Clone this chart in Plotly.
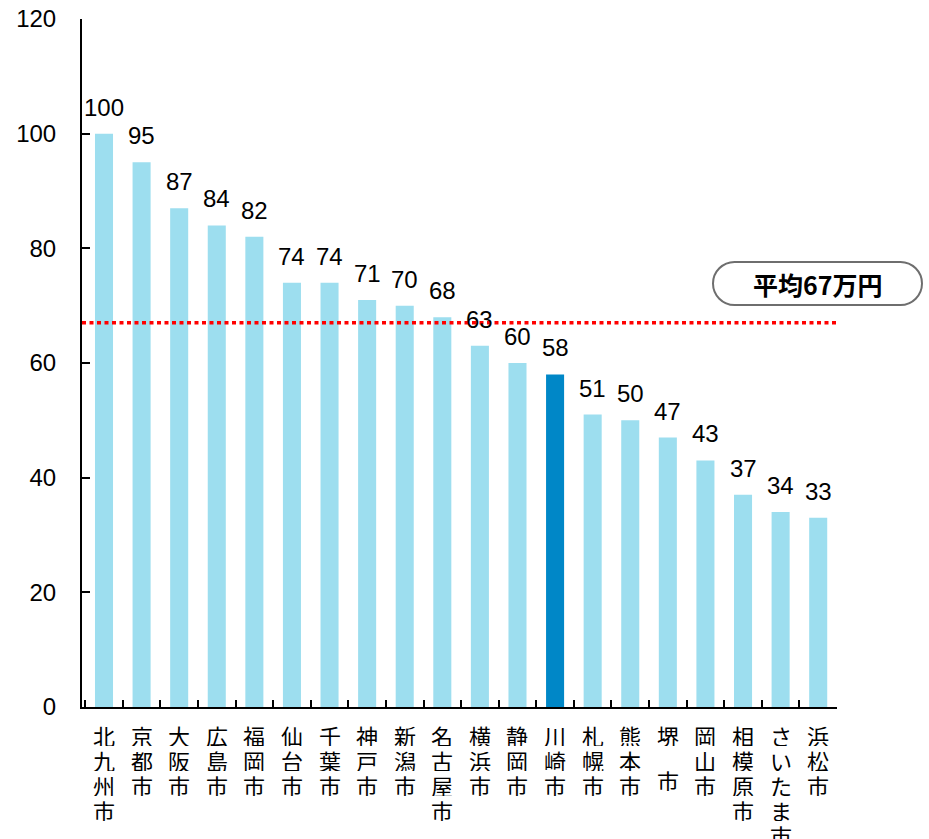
import plotly.graph_objects as go

# Cities and values (万円)
cities = ["北九州市", "京都市", "大阪市", "広島市", "福岡市", "仙台市", "千葉市", "神戸市",
          "新潟市", "名古屋市", "横浜市", "静岡市", "川崎市", "札幌市", "熊本市", "堺 市",
          "岡山市", "相模原市", "さいたま市", "浜松市"]
values = [100, 95, 87, 84, 82, 74, 74, 71, 70, 68, 63, 60, 58, 51, 50, 47, 43, 37, 34, 33]
highlight = "川崎市"
average = 67
average_label = "平均67万円"
y_ticks = [0, 20, 40, 60, 80, 100, 120]

LIGHT = "#9DDEEF"
DARK = "#0087C7"
NUM_FONT = "Liberation Sans, Arial, sans-serif"
JP_FONT = "Noto Sans CJK JP, sans-serif"

# plot area in pixels
FIG_W, FIG_H = 929, 839
L, R, T, B = 82, 92, 19, 132
PW, PH = FIG_W - L - R, FIG_H - T - B


def paper_x(px):
    return (px - L) / PW


def paper_y(py):
    return (FIG_H - B - py) / PH


colors = [DARK if c == highlight else LIGHT for c in cities]

fig = go.Figure()
fig.add_trace(go.Bar(x=cities, y=values, marker=dict(color=colors, line=dict(width=0)),
                     hoverinfo="x+y"))

# value labels above bars
for c, v in zip(cities, values):
    fig.add_annotation(x=c, y=v, text=str(v), showarrow=False, yanchor="bottom",
                       yshift=11, font=dict(family=NUM_FONT, size=24, color="black"))

# category labels written top-to-bottom, one character per line
CHAR_STEP = 25
for c in cities:
    offset = 0.0
    for ch in c:
        if ch == " ":
            offset += 20
            continue
        fig.add_annotation(x=c, xref="x", y=0, yref="paper", text=ch, showarrow=False,
                           yanchor="middle", yshift=-(27 + offset),
                           height=CHAR_STEP - 2, borderpad=0,
                           font=dict(family=JP_FONT, size=22, color="black"))
        offset += CHAR_STEP

# average line
fig.add_shape(type="line", xref="paper", x0=0, x1=1, yref="y", y0=average, y1=average,
              line=dict(color="#FF0000", width=3.5, dash="4px,3.5px"), layer="above")

# rounded label box for the average
bx0, bx1, by0, by1 = 713, 922, 262, 305
r = (by1 - by0) / 2
k = 0.5523 * r
path = (
    f"M {paper_x(bx0 + r)},{paper_y(by0)} "
    f"L {paper_x(bx1 - r)},{paper_y(by0)} "
    f"C {paper_x(bx1 - r + k)},{paper_y(by0)} {paper_x(bx1)},{paper_y(by0 + r - k)} {paper_x(bx1)},{paper_y(by0 + r)} "
    f"C {paper_x(bx1)},{paper_y(by0 + r + k)} {paper_x(bx1 - r + k)},{paper_y(by1)} {paper_x(bx1 - r)},{paper_y(by1)} "
    f"L {paper_x(bx0 + r)},{paper_y(by1)} "
    f"C {paper_x(bx0 + r - k)},{paper_y(by1)} {paper_x(bx0)},{paper_y(by1 - r + k)} {paper_x(bx0)},{paper_y(by1 - r)} "
    f"C {paper_x(bx0)},{paper_y(by0 + r - k)} {paper_x(bx0 + r - k)},{paper_y(by0)} {paper_x(bx0 + r)},{paper_y(by0)} Z"
)
fig.add_shape(type="path", xref="paper", yref="paper", path=path,
              line=dict(color="#6E6E6E", width=2), fillcolor="white", layer="above")
fig.add_annotation(xref="paper", yref="paper",
                   x=paper_x((bx0 + bx1) / 2), y=paper_y((by0 + by1) / 2),
                   text=f"<b>{average_label}</b>", showarrow=False,
                   xanchor="center", yanchor="middle",
                   font=dict(family=JP_FONT, size=25, color="black"))

fig.update_layout(
    width=FIG_W, height=FIG_H,
    margin=dict(l=L, r=R, t=T, b=B),
    paper_bgcolor="white", plot_bgcolor="white",
    bargap=0.52, showlegend=False,
    xaxis=dict(
        automargin=False, showticklabels=False,
        tickson="boundaries", ticks="inside", ticklen=7, tickwidth=1.5, tickcolor="black",
        showline=True, linecolor="black", linewidth=2, showgrid=False,
    ),
    yaxis=dict(
        automargin=False,
        range=[0, 120], tickvals=y_ticks, ticks="inside", ticklen=8, tickwidth=1.5,
        tickcolor="black", showline=True, linecolor="black", linewidth=2,
        showgrid=False, zeroline=False, ticklabelstandoff=19,
        tickfont=dict(family=NUM_FONT, size=24, color="black"),
    ),
)

fig.write_html("out.html")
